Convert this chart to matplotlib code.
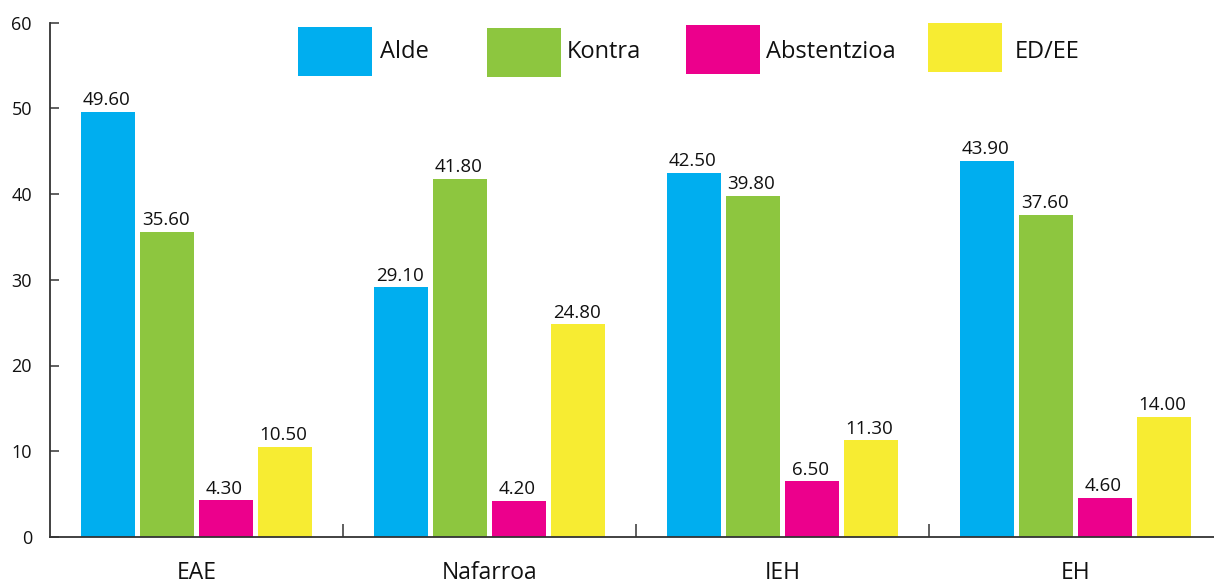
import matplotlib
matplotlib.use("Agg")
import matplotlib.pyplot as plt
from matplotlib.patches import Rectangle
import numpy as np

plt.rcParams['font.family'] = ['Open Sans', 'DejaVu Sans']

categories = ["EAE", "Nafarroa", "IEH", "EH"]
series_names = ["Alde", "Kontra", "Abstentzioa", "ED/EE"]
alde = [49.60, 29.10, 42.50, 43.90]
kontra = [35.60, 41.80, 39.80, 37.60]
abstentzioa = [4.30, 4.20, 6.50, 4.60]
ed_ee = [10.50, 24.80, 11.30, 14.00]
yticks = [0, 10, 20, 30, 40, 50, 60]
colors = ["#00AEEF", "#8DC63F", "#EC008C", "#F7EC32"]

series = [alde, kontra, abstentzioa, ed_ee]

W, H = 1214, 584
fig = plt.figure(figsize=(W / 100, H / 100), dpi=100)
ax_left, ax_right = 50, 1222
ax_bottom, ax_top = 537, 22.5
ax = fig.add_axes([ax_left / W, (H - ax_bottom) / H, (ax_right - ax_left) / W, (ax_bottom - ax_top) / H])

x = np.arange(len(categories))
step = 0.2014
width = 0.181
for i, (vals, col) in enumerate(zip(series, colors)):
    pos = x + (i - 1.5) * step
    ax.bar(pos, vals, width=width, color=col, linewidth=0, zorder=2)
    for p, v in zip(pos, vals):
        ax.text(p - 0.005, v + 0.3, f"{v:.2f}", ha="center", va="bottom", fontsize=13.5, color="#111111")

ax.set_xlim(-0.5, 3.5)
ax.set_ylim(0, 60)
ax.set_yticks(yticks)
ax.set_yticklabels([str(t) for t in yticks], fontsize=13, color="#111111")
ax.tick_params(axis='y', direction='in', length=6.5, width=1.2, color="#444444", pad=13)
ax.set_xticks(x)
ax.set_xticklabels(categories, fontsize=16.5, color="#111111")
ax.tick_params(axis='x', which='major', length=0, pad=17)
ax.set_xticks([0.5, 1.5, 2.5], minor=True)
ax.tick_params(axis='x', which='minor', direction='in', length=9.5, width=1.2, color="#444444")

for s in ['top', 'right']:
    ax.spines[s].set_visible(False)
for s in ['left', 'bottom']:
    ax.spines[s].set_color("#333333")
    ax.spines[s].set_linewidth(1.3)

# legend drawn in figure pixel coordinates
leg_boxes = [(298, 27), (487, 28), (686, 25), (928, 23)]
text_x = [380, 567, 766, 1015]
for (bx, by), tx, name, col in zip(leg_boxes, text_x, series_names, colors):
    fig.patches.append(Rectangle((bx / W, 1 - (by + 49) / H), 74 / W, 49 / H,
                                 transform=fig.transFigure, color=col, linewidth=0))
    fig.text(tx / W, 1 - 52 / H, name, ha="left", va="center", fontsize=17, color="#111111")

fig.savefig("out.png", dpi=100)
